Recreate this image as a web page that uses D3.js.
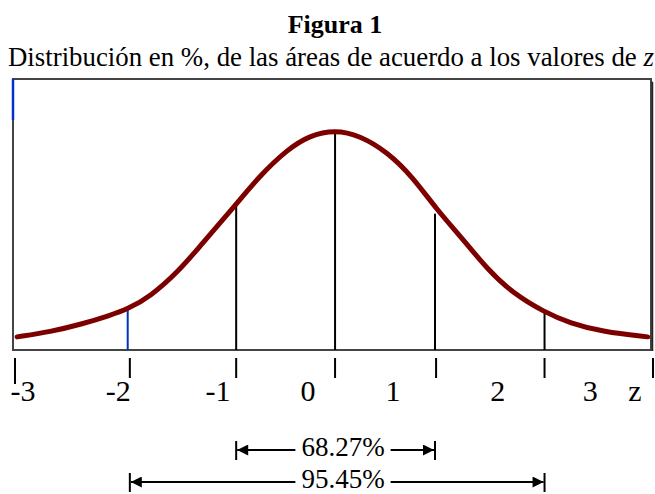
<!DOCTYPE html>
<html>
<head>
<meta charset="utf-8">
<script src="https://cdn.jsdelivr.net/npm/d3@7"></script>
<style>
  body { margin: 0; background: #fff; }
  text { font-family: "Liberation Serif", "Times New Roman", serif; fill: #000; }
</style>
</head>
<body>
<svg id="chart" width="655" height="494"></svg>
<script>
// hand drawn bell curve: z and height (density)
var curveZ = [-2.98, -2.67, -2.36, -2.11, -1.94, -1.73, -1.45, -1.26, -0.92, -0.70, -0.44, -0.23, 0.01,
  0.24, 0.50, 0.74, 0.96, 1.21, 1.44, 1.68, 1.98, 2.22, 2.53, 2.95];
var curveV = [0.024, 0.033, 0.048, 0.063, 0.075, 0.097, 0.146, 0.190, 0.266, 0.318, 0.366, 0.392, 0.402,
  0.392, 0.362, 0.316, 0.258, 0.203, 0.148, 0.104, 0.069, 0.049, 0.033, 0.024];

// vertical dividers under the curve (where they were drawn)
var divZ = [-1.94, -0.92, 0.01, 0.95, 1.98];
var divTop = [0.073, 0.265, 0.399, 0.249, 0.069];

// tick marks below the box and their labels
var tickZ = [-3, -1.92, -0.92, 0.01, 0.96, 1.98, 3];
var tickLabels = ["-3", "-2", "-1", "0", "1", "2", "3", "z"];
var labelZ = [-2.925, -2.03, -1.09, -0.245, 0.555, 1.54, 2.41, 2.83];

// area brackets
var spans = [
  { label: "68.27%", from: -0.92, to: 0.95 },
  { label: "95.45%", from: -1.92, to: 1.98 }
];

var svg = d3.select("#chart");

var x = d3.scaleLinear().domain([-3, 3]).range([15, 653]);
var y = d3.scaleLinear().domain([0, 0.495]).range([350, 79]);

// title
svg.append("text")
  .attr("x", 335).attr("y", 33)
  .attr("text-anchor", "middle")
  .style("font-size", "26px").style("font-weight", "bold")
  .text("Figura 1");

var sub = svg.append("text")
  .attr("x", 8).attr("y", 66)
  .style("font-size", "24px");
sub.append("tspan").text("Distribución en %, de las áreas de acuerdo a los valores de ");
sub.append("tspan").style("font-style", "italic").text("z");
var len = sub.node().getComputedTextLength();
sub.style("font-size", (24 * 646 / len) + "px");

// frame
var x0 = x(-3) - 2, x1 = x(3) - 2;
svg.append("rect")
  .attr("x", x0).attr("y", y(0.495))
  .attr("width", x1 - x0).attr("height", y(0) - y(0.495))
  .attr("fill", "none")
  .attr("stroke", "#444")
  .attr("stroke-width", 2);
svg.append("line")
  .attr("x1", x1 + 1.5).attr("x2", x1 + 1.5)
  .attr("y1", y(0.49)).attr("y2", y(0) + 1)
  .attr("stroke", "#222").attr("stroke-width", 1.5);
svg.append("line")
  .attr("x1", x0).attr("x2", x0)
  .attr("y1", y(0.495)).attr("y2", y(0.42))
  .attr("stroke", "#0033cc").attr("stroke-width", 2.5);

// dividers
svg.selectAll(".div")
  .data(divZ)
  .enter()
  .append("line")
  .attr("class", "div")
  .attr("x1", function (d) { return x(d); })
  .attr("x2", function (d) { return x(d); })
  .attr("y1", function (d, i) { return y(divTop[i]); })
  .attr("y2", y(0))
  .attr("stroke", function (d, i) { return i === 0 ? "#0033bb" : "#000"; })
  .attr("stroke-width", 2);

// curve
var pts = curveZ.map(function (z, i) { return [x(z), y(curveV[i])]; });
var line = d3.line().curve(d3.curveBasis);
svg.append("path")
  .attr("d", line(pts))
  .attr("fill", "none")
  .attr("stroke", "#7d0000")
  .attr("stroke-width", 5)
  .attr("stroke-linecap", "round")
  .attr("stroke-linejoin", "round");

// ticks
svg.selectAll(".tick")
  .data(tickZ)
  .enter()
  .append("line")
  .attr("class", "tick")
  .attr("x1", function (d) { return x(d); })
  .attr("x2", function (d) { return x(d); })
  .attr("y1", 358)
  .attr("y2", function (d, i) { return i === 0 ? 384 : 378; })
  .attr("stroke", "#000")
  .attr("stroke-width", 2);

svg.selectAll(".lbl")
  .data(tickLabels)
  .enter()
  .append("text")
  .attr("class", "lbl")
  .attr("x", function (d, i) { return x(labelZ[i]); })
  .attr("y", 401)
  .attr("text-anchor", "middle")
  .style("font-size", "30px")
  .text(function (d) { return d; });

// brackets
var defs = svg.append("defs");
defs.append("marker")
  .attr("id", "arr")
  .attr("viewBox", "0 -5 10 10")
  .attr("refX", 10)
  .attr("markerWidth", 17)
  .attr("markerHeight", 11)
  .attr("markerUnits", "userSpaceOnUse")
  .attr("orient", "auto-start-reverse")
  .append("path")
  .attr("d", "M0,-5L10,0L0,5Z")
  .attr("fill", "#000");

var rowY = [450, 482];
var textDy = [6, 6];
spans.forEach(function (s, i) {
  var g = svg.append("g");
  var cy = rowY[i];
  var a = x(s.from), b = x(s.to);
  g.append("line")
    .attr("x1", a + 1).attr("x2", b - 1)
    .attr("y1", cy).attr("y2", cy)
    .attr("stroke", "#000").attr("stroke-width", 2)
    .attr("marker-start", "url(#arr)")
    .attr("marker-end", "url(#arr)");
  [a, b].forEach(function (px) {
    g.append("line")
      .attr("x1", px).attr("x2", px)
      .attr("y1", cy - 9).attr("y2", cy + 10)
      .attr("stroke", "#000").attr("stroke-width", 2);
  });
  var t = g.append("text")
    .attr("x", 343).attr("y", cy + textDy[i])
    .attr("text-anchor", "middle")
    .style("font-size", "27px")
    .text(s.label);
  var bb = t.node().getBBox();
  g.insert("rect", "text")
    .attr("x", bb.x - 6).attr("y", cy - 3)
    .attr("width", bb.width + 12).attr("height", 6)
    .attr("fill", "#fff");
});
</script>
</body>
</html>
